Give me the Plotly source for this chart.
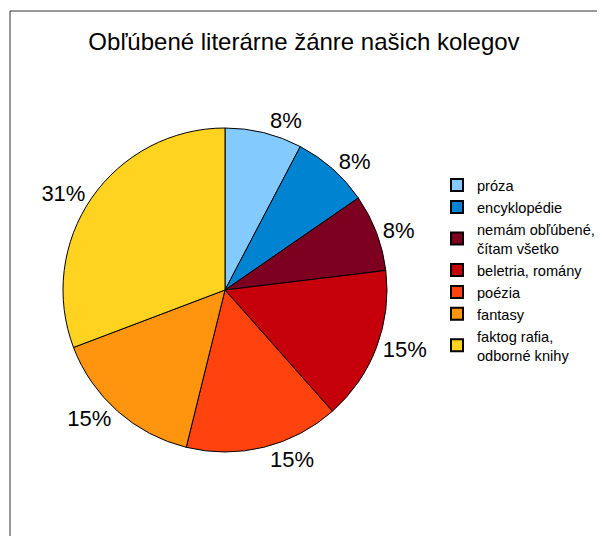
import plotly.graph_objects as go

categories = ["próza", "encyklopédie", "nemám obľúbené,<br>čítam všetko",
              "beletria, romány", "poézia", "fantasy", "faktog rafia,<br>odborné knihy"]
counts = [1, 1, 1, 2, 2, 2, 4]
colors = ["#83CAFF", "#0084D1", "#7E0021", "#C5000B", "#FF420E", "#FF950E", "#FFD320"]

OFF = 8  # page body margin
W, H = 605 - OFF, 536 - OFF

def px_x(x):
    return (x - OFF) / W

def px_y(y):
    return 1 - (y - OFF) / H

FONT = "Liberation Sans, Arial, sans-serif"

fig = go.Figure(go.Pie(
    labels=categories,
    values=counts,
    sort=False,
    direction="clockwise",
    rotation=0,
    marker=dict(colors=colors, line=dict(color="#000000", width=1)),
    texttemplate="%{percent:.0%}",
    textposition="outside",
    textfont=dict(family=FONT, size=22, color="#000000"),
    domain=dict(x=[px_x(63), px_x(387)], y=[px_y(452), px_y(128)]),
    hoverinfo="label+percent",
))

frame = dict(color="#333333", width=1)
fig.update_layout(
    width=W, height=H,
    margin=dict(l=0, r=0, t=0, b=0),
    paper_bgcolor="white",
    plot_bgcolor="white",
    title=dict(text="Obľúbené literárne žánre našich kolegov",
               x=px_x(304), xanchor="center", y=px_y(42), yanchor="middle",
               font=dict(family=FONT, size=24, color="#000000")),
    legend=dict(x=px_x(437), xanchor="left", y=px_y(169), yanchor="top",
                font=dict(family=FONT, size=14.6, color="#000000"),
                tracegroupgap=0, itemsizing="constant", bgcolor="rgba(0,0,0,0)"),
    shapes=[
        dict(type="line", xref="paper", yref="paper",
             x0=px_x(10), x1=1.0, y0=px_y(11), y1=px_y(11), line=frame, layer="below"),
        dict(type="line", xref="paper", yref="paper",
             x0=px_x(10), x1=px_x(10), y0=0.0, y1=px_y(11), line=frame, layer="below"),
    ],
)

fig.write_html("out.html")
